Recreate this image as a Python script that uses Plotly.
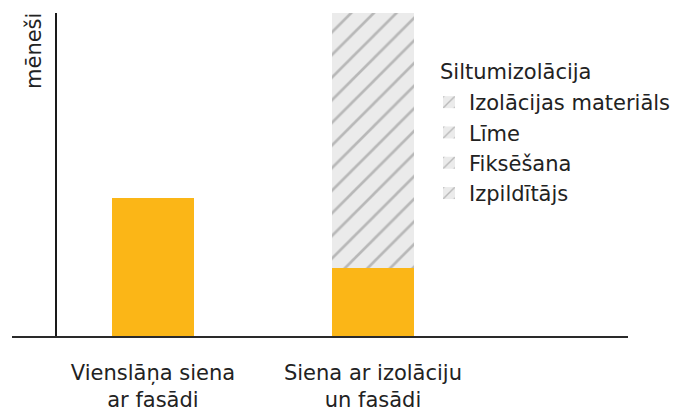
import plotly.graph_objects as go

categories = ["Vienslāņa siena<br>ar fasādi", "Siena ar izolāciju<br>un fasādi"]
base_values = [4.29, 2.13]
insulation_names = ["Izolācijas materiāls", "Līme", "Fiksēšana", "Izpildītājs"]
insulation_values = [
    [0, 1.97],
    [0, 1.97],
    [0, 1.97],
    [0, 1.96],
]
y_title = "mēneši"
legend_title = "Siltumizolācija"

FONT = "DejaVu Sans"
ORANGE = "#FBB617"
x_pos = [0, 1]

fig = go.Figure()
fig.add_trace(go.Bar(
    x=x_pos, y=base_values, width=0.3727,
    marker=dict(color=ORANGE, line=dict(width=0)),
    showlegend=False, hoverinfo="skip",
))
for name, vals in zip(insulation_names, insulation_values):
    fig.add_trace(go.Bar(
        x=x_pos, y=vals, name=name, width=0.3727,
        marker=dict(
            color="#EBEBEB",
            line=dict(width=0),
            pattern=dict(shape="/", size=16, solidity=0.17,
                         fgcolor="#858585", bgcolor="#EBEBEB", fillmode="overlay"),
        ),
    ))

fig.update_layout(
    width=678, height=414,
    margin=dict(l=57, r=50, t=13, b=77, autoexpand=False),
    barmode="stack",
    plot_bgcolor="white", paper_bgcolor="white",
    font=dict(family=FONT, size=21, color="#222222"),
    showlegend=True,
    legend=dict(
        x=(429 - 57) / 571, y=1 - (82 - 13) / 324, xanchor="left", yanchor="top",
        traceorder="normal", bgcolor="rgba(0,0,0,0)",
        font=dict(family=FONT, size=21, color="#222222"),
        itemwidth=30,
    ),
    xaxis=dict(
        range=[-0.436, 2.159], tickmode="array", tickvals=x_pos, ticktext=categories,
        showgrid=False, zeroline=False, showline=False, ticks="",
        ticklabelstandoff=21, automargin=False,
        tickfont=dict(family=FONT, size=21, color="#222222"),
        fixedrange=True,
    ),
    yaxis=dict(
        range=[0, 10], showgrid=False, zeroline=False, showticklabels=False,
        showline=True, linecolor="#1A1A1A", linewidth=1.5, ticks="",
        fixedrange=True, automargin=False,
    ),
    annotations=[
        dict(text=legend_title, xref="paper", yref="paper",
             x=(438 - 57) / 571, y=1 - (58 - 13) / 324, xanchor="left", yanchor="top",
             showarrow=False, font=dict(family=FONT, size=21, color="#222222")),
        dict(text=y_title, xref="paper", yref="paper", textangle=-90,
             x=0, xshift=-9, y=1, yshift=2, yanchor="top", xanchor="right",
             showarrow=False, font=dict(family=FONT, size=21, color="#222222")),
    ],
    shapes=[
        dict(type="line", xref="paper", yref="paper",
             x0=(12 - 57) / 571, x1=1, y0=0, y1=0,
             line=dict(color="#2A2A2A", width=2)),
    ],
)

fig.write_html("out.html", config={"displayModeBar": False},
               post_script="document.body.style.margin='0';")
